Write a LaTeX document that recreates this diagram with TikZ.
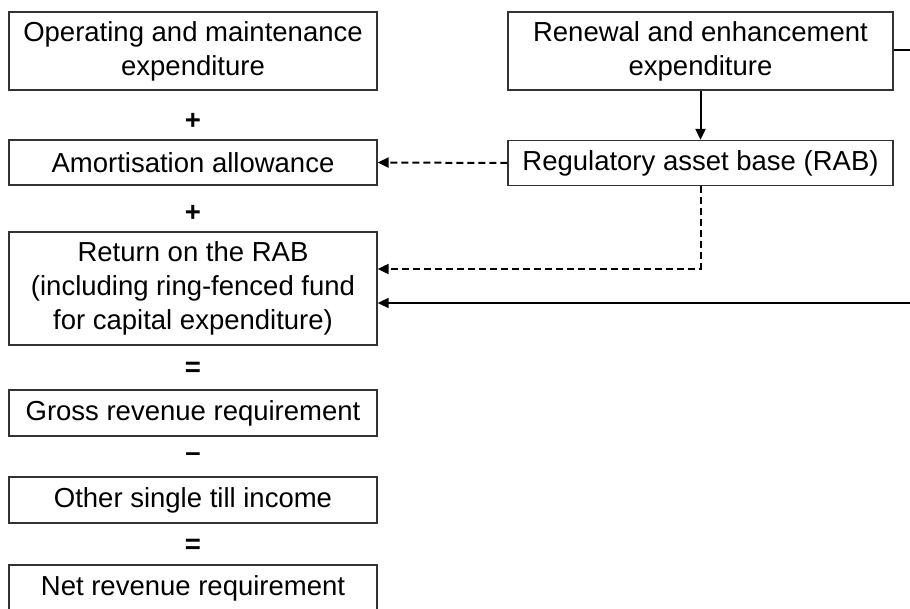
\documentclass[tikz,border=0pt]{standalone}
\usepackage{fontspec}
\setmainfont{Liberation Sans}
\usetikzlibrary{arrows.meta}
\begin{document}
\begin{tikzpicture}[x=1pt,y=-1pt,
  box/.style={draw=black!80,line width=1.3pt,fill=white,align=center,inner sep=0pt,
    font=\fontsize{27.5}{34}\selectfont},
  lbox/.style={box,minimum width=368pt},
  rbox/.style={box,minimum width=385pt},
  op/.style={font=\fontsize{27.5}{33}\selectfont\bfseries,inner sep=0pt},
  conn/.style={line width=2pt,-{Triangle[length=11pt,width=10pt]}},
  dconn/.style={conn,dash pattern=on 7pt off 4pt}]
\useasboundingbox (0,0) rectangle (910,608);
% left column
\node[lbox,minimum height=78pt] (om) at (193,51) {Operating and maintenance\\expenditure};
\node[op] (p1) at (193,121) {+};
\node[lbox,minimum height=45pt] (am) at (193,162.5) {Amortisation allowance};
\node[op] (p2) at (193,213) {+};
\node[lbox,minimum height=113pt] (ret) at (193,288.5) {Return on the RAB\\(including ring-fenced fund\\for capital expenditure)};
\node[op] (e1) at (193,369) {=};
\node[lbox,minimum height=46pt] (gross) at (193,413) {Gross revenue requirement};
\node[op] (m1) at (193,457) {\textendash};
\node[lbox,minimum height=46pt] (other) at (193,500) {Other single till income};
\node[op] (e2) at (193,546) {=};
\node[lbox,minimum height=46pt] (net) at (193,588) {Net revenue requirement};
% right column
\node[rbox,minimum height=78pt] (ren) at (700.5,51) {Renewal and enhancement\\expenditure};
\node[rbox,minimum height=45pt] (rab) at (700.5,163) {Regulatory asset base (RAB)};
% connectors
\coordinate (c1) at (940,50);
\coordinate (c2) at (940,303);
\draw[conn] (ren.south) -- (rab.north);
\draw[dconn] (rab.west) -- (am.east);
\draw[dconn] (rab.south) |- (ret.east |- 0,269);
\draw[conn,line width=1.6pt] (ren.east |- c1) -- (c1) -- (c2) -- (ret.east |- c2);
\end{tikzpicture}
\end{document}
